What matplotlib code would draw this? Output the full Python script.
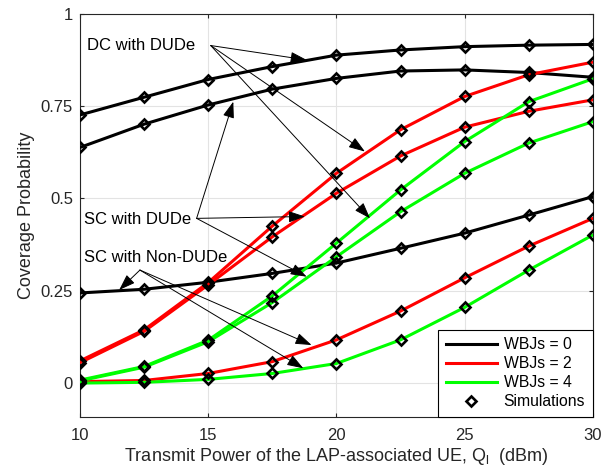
import matplotlib.pyplot as plt
from matplotlib.lines import Line2D

plt.rcParams['font.family'] = ['Liberation Sans', 'DejaVu Sans']
plt.rcParams['mathtext.fontset'] = 'custom'
plt.rcParams['mathtext.rm'] = 'Liberation Sans'

# transmit power (dBm)
power = [10, 12.5, 15, 17.5, 20, 22.5, 25, 27.5, 30]

# DC with DUDe
dc_dude_0 = [0.726, 0.774, 0.822, 0.857, 0.888, 0.902, 0.911, 0.915, 0.917]
dc_dude_2 = [0.060, 0.144, 0.272, 0.425, 0.568, 0.686, 0.776, 0.835, 0.869]
dc_dude_4 = [0.008, 0.045, 0.116, 0.236, 0.379, 0.523, 0.654, 0.762, 0.824]
# SC with DUDe
sc_dude_0 = [0.638, 0.701, 0.753, 0.796, 0.825, 0.845, 0.848, 0.841, 0.828]
sc_dude_2 = [0.055, 0.140, 0.266, 0.396, 0.514, 0.615, 0.693, 0.736, 0.767]
sc_dude_4 = [0.006, 0.043, 0.112, 0.218, 0.342, 0.464, 0.568, 0.650, 0.708]
# SC with Non-DUDe
sc_non_0 = [0.244, 0.254, 0.273, 0.297, 0.325, 0.365, 0.406, 0.455, 0.505]
sc_non_2 = [0.004, 0.007, 0.026, 0.058, 0.117, 0.195, 0.285, 0.371, 0.446]
sc_non_4 = [0.000, 0.002, 0.010, 0.026, 0.053, 0.117, 0.205, 0.306, 0.401]

curves = [
    (dc_dude_0, 'k'), (sc_dude_0, 'k'), (sc_non_0, 'k'),
    (dc_dude_2, 'r'), (sc_dude_2, 'r'), (sc_non_2, 'r'),
    (dc_dude_4, 'lime'), (sc_dude_4, 'lime'), (sc_non_4, 'lime'),
]

legend_labels = ['WBJs = 0', 'WBJs = 2', 'WBJs = 4', 'Simulations']

fig = plt.figure(figsize=(6.1, 4.75), dpi=100)
ax = fig.add_axes([0.131, 0.122, 0.841, 0.849])

for vals, c in curves:
    ax.plot(power, vals, color=c, lw=2.2, zorder=3)
for vals, c in curves:
    ax.plot(power, vals, ls='none', marker='D', ms=5.5, mfc='none',
            mec='k', mew=1.9, zorder=4)

ax.set_xlim(10, 30)
ax.set_ylim(-0.092, 1.0)
ax.set_xticks([10, 15, 20, 25, 30])
ax.set_yticks([0, 0.25, 0.5, 0.75, 1])
ax.set_yticklabels(['0', '0.25', '0.5', '0.75', '1'])
ax.grid(True, color='#e3e3e3', lw=0.8)
ax.set_axisbelow(True)
ax.tick_params(direction='in', length=3, top=True, right=True,
               labelsize=12, colors='#262626')
ax.tick_params(axis='x', pad=8)
ax.tick_params(axis='y', pad=5)
for s in ax.spines.values():
    s.set_color('#262626')
    s.set_linewidth(0.8)

ax.set_xlabel('Transmit Power of the LAP-associated UE, Q$_\\mathregular{l}$  (dBm)',
              fontsize=13, color='#262626', labelpad=2)
ax.set_ylabel('Coverage Probability', fontsize=13, color='#262626', labelpad=4)

# annotations
arrow = dict(arrowstyle='-|>,head_length=1.0,head_width=0.35', color='k',
             lw=0.7, shrinkA=0, shrinkB=0)
ax.text(10.27, 0.913, 'DC with DUDe', fontsize=12, va='center', ha='left')
for tip in [(18.84, 0.875), (21.11, 0.627), (21.31, 0.446)]:
    ax.annotate('', xy=tip, xytext=(15.10, 0.914), arrowprops=arrow, zorder=5)

ax.text(10.16, 0.444, 'SC with DUDe', fontsize=12, va='center', ha='left')
for tip in [(15.98, 0.762), (18.77, 0.451), (18.84, 0.288)]:
    ax.annotate('', xy=tip, xytext=(14.55, 0.446), arrowprops=arrow, zorder=5)

ax.text(10.16, 0.340, 'SC with Non-DUDe', fontsize=12, va='center', ha='left')
for tip in [(11.53, 0.252), (19.03, 0.103), (18.71, 0.040)]:
    ax.annotate('', xy=tip, xytext=(12.34, 0.306), arrowprops=arrow, zorder=5)

handles = [Line2D([], [], color='k', lw=2.2),
           Line2D([], [], color='r', lw=2.2),
           Line2D([], [], color='lime', lw=2.2),
           Line2D([], [], ls='none', marker='D', ms=5.5, mfc='none', mec='k', mew=1.9)]
leg = ax.legend(handles, legend_labels, loc='lower right', fontsize=11.3,
                borderaxespad=0, fancybox=False, framealpha=1,
                handlelength=3.3, handletextpad=0.4, labelspacing=0.25,
                borderpad=0.5)
leg.get_frame().set_edgecolor('k')
leg.get_frame().set_linewidth(0.8)
leg.set_zorder(6)

fig.savefig('out.png', dpi=100)
